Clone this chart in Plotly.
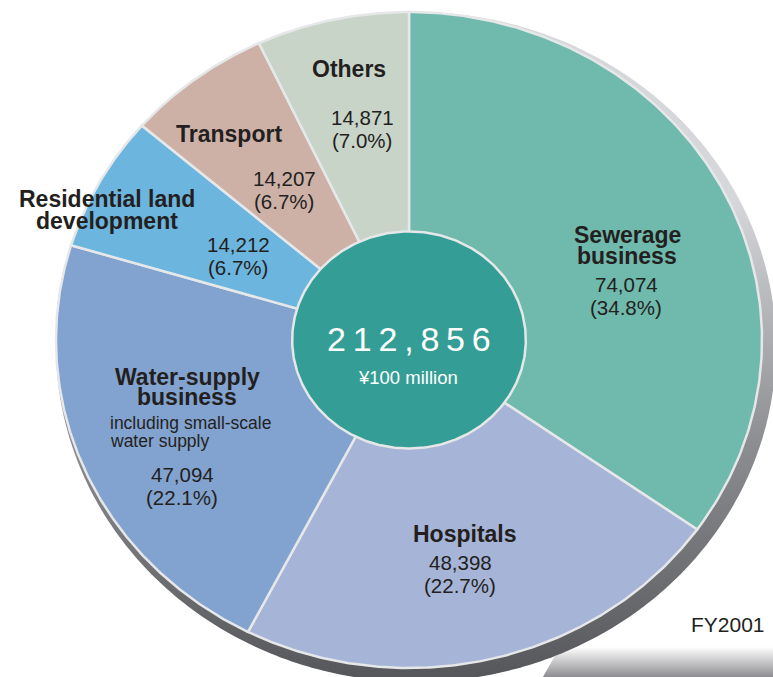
import numpy as np
import plotly.graph_objects as go

# FY2001, unit: 100 million yen
categories = ["Sewerage business", "Hospitals", "Water-supply business",
              "Residential land development", "Transport", "Others"]
values = [74074, 48398, 47094, 14212, 14207, 14871]
shares = ["34.8%", "22.7%", "22.1%", "6.7%", "6.7%", "7.0%"]
total = 212856
unit = "¥100 million"
year = "FY2001"
note = ["including small-scale", "water supply"]  # under water-supply

colors = ["#6fb9ad", "#a6b4d7", "#82a3cf", "#6cb5de", "#cdb1a7", "#c9d4c9"]
edge = "#e6e7e9"
ink = "#231f20"
FONT = "Liberation Sans, Arial, sans-serif"

# pixel frame of the (slightly squashed) pie
W, H = 773, 677
CX, CY, RX, RY = 409, 340, 353, 328


def dx(px):
    return (px - CX) / RX


def dy(py):
    return (CY - py) / RY


fig = go.Figure()

# floor shadow, bottom right
fig.add_trace(go.Scatter(
    x=[dx(560), dx(W + 5), dx(W + 5), dx(540), dx(560)],
    y=[dy(647), dy(647), dy(H + 5), dy(H + 5), dy(647)],
    mode="none", fill="toself", hoverinfo="skip",
    fillgradient=dict(type="vertical", start=dy(H), stop=dy(647),
                      colorscale=[[0, "#8e8e92"], [1, "rgba(255,255,255,1)"]])))

# extruded rim of the disc
t = np.linspace(0, 2 * np.pi, 400)
e = 7
fig.add_trace(go.Scatter(
    x=dx(CX + e) + (RX + e) / RX * np.sin(t),
    y=dy(CY + e) + (RY + e) / RY * np.cos(t),
    mode="none", fill="toself", hoverinfo="skip",
    fillgradient=dict(type="vertical", start=dy(H), stop=dy(200),
                      colorscale=[[0, "#56575a"], [0.5, "#8e8f93"], [1, "#d6d7da"]])))

# slices, clockwise from 12 o'clock
cum = np.concatenate([[0], np.cumsum(values)]) / total * 2 * np.pi
for i, name in enumerate(categories):
    a = np.linspace(cum[i], cum[i + 1], 200)
    fig.add_trace(go.Scatter(
        x=np.concatenate([[0], np.sin(a), [0]]),
        y=np.concatenate([[0], np.cos(a), [0]]),
        mode="lines", fill="toself", fillcolor=colors[i],
        line=dict(color=edge, width=2.5), name=name,
        hoverinfo="name"))

# centre disc
r = 0.331
fig.add_trace(go.Scatter(
    x=r * np.sin(t), y=r * np.cos(t), mode="lines", fill="toself",
    fillcolor="#349e96", line=dict(color=edge, width=2.5), hoverinfo="skip"))


def label(text, x, y, size, bold=False, xanchor="center", color=ink):
    fig.add_annotation(
        x=dx(x), y=dy(y), text=text, showarrow=False, xanchor=xanchor,
        yanchor="middle",
        font=dict(family=FONT, size=size, color=color,
                  weight="bold" if bold else "normal"))


# title lines, number line and share line positions (pixels)
name_lines = [["Sewerage", "business"], ["Hospitals"], ["Water-supply", "business"],
              ["Residential land", "development"], ["Transport"], ["Others"]]
name_pos = [[(627, 235), (627, 256)], [(465, 534)], [(187, 377), (187, 397)],
            [(107, 199), (107, 221)], [(229, 134)], [(349, 69)]]
num_pos = [(626, 284), (460, 562), (182, 474), (238, 244), (284, 178), (362, 117)]

for i in range(len(categories)):
    for txt, (x, y) in zip(name_lines[i], name_pos[i]):
        label(txt, x, y, 23, bold=True)
    x, y = num_pos[i]
    label(f"{values[i]:,}", x, y, 20.5)
    label(f"({shares[i]})", x, y + 23, 20.5)

label(note[0], 108, 423, 17.5, xanchor="left")
label(note[1], 108, 441, 17.5, xanchor="left")

label("\u2009".join(f"{total:,}"), 409, 339, 34, color="white")
label(unit, 408, 377, 18.5, color="white")
label(year, 767, 624, 21, xanchor="right")

fig.update_layout(
    width=W, height=H, margin=dict(l=0, r=0, t=0, b=0),
    paper_bgcolor="white", plot_bgcolor="white", showlegend=False,
    xaxis=dict(range=[dx(0), dx(W)], visible=False, fixedrange=True),
    yaxis=dict(range=[dy(H), dy(0)], visible=False, fixedrange=True),
)

fig.write_html("out.html", config={"displayModeBar": False},
               post_script="document.body.style.margin='0';")
